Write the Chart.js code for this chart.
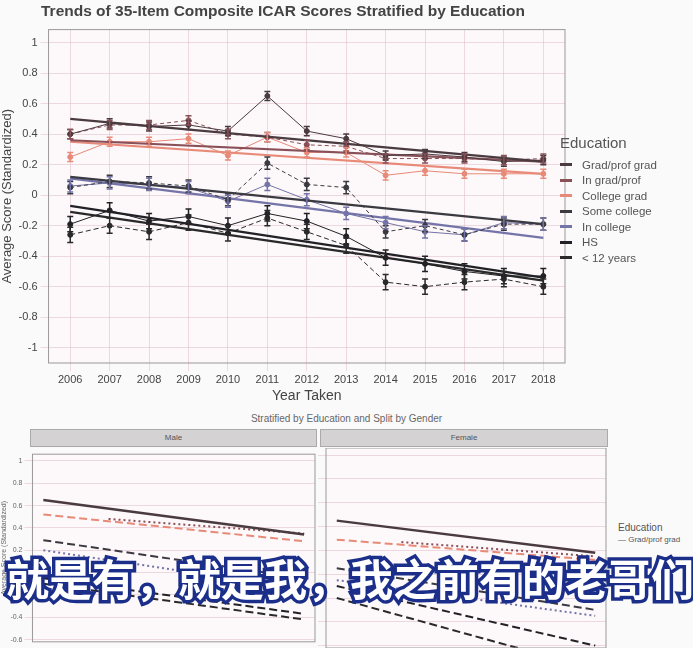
<!DOCTYPE html>
<html><head><meta charset="utf-8">
<script src="https://cdn.jsdelivr.net/npm/chart.js"></script>
<style>
body{margin:0;background:#fbfafb;width:693px;height:648px;overflow:hidden;position:relative;font-family:"Liberation Sans",Arial,sans-serif}
canvas{position:absolute}
#legend{position:absolute;left:560px;top:134px;color:#555;font-size:12px}
#legend .t{font-size:15px;margin-bottom:6px}
#legend .r{display:flex;align-items:center;height:15.5px;font-size:11.5px}
#legend .r span{display:inline-block;width:12px;height:3px;margin-right:10px}
#sub{position:absolute;left:6px;top:546px;font:bold 43px "Noto Sans CJK SC";color:#fff;-webkit-text-stroke:7px #1b2f8a;paint-order:stroke fill;white-space:nowrap;letter-spacing:0px}
.strip{position:absolute;background:#d4d2d3;border:1px solid #aaa;font-size:8px;color:#555;text-align:center;line-height:16px;height:16px}
#t2{position:absolute;left:0;width:693px;top:413px;text-align:center;font-size:10px;color:#666}
#leg2{position:absolute;left:618px;top:522px;font-size:10px;color:#555}
</style></head><body>
<canvas id="c1" width="570" height="405" style="left:0;top:0;width:570px;height:405px"></canvas>
<div id="legend"><div class="t">Education</div></div>
<div id="t2">Stratified by Education and Split by Gender</div>
<div class="strip" style="left:30px;top:429px;width:285px">Male</div>
<div class="strip" style="left:320px;top:429px;width:286px">Female</div>
<canvas id="c2" width="318" height="200" style="left:0;top:448px;width:318px;height:200px"></canvas>
<canvas id="c3" width="290" height="200" style="left:318px;top:448px;width:290px;height:200px"></canvas>
<div id="leg2">Education<br><span style="font-size:8px">— Grad/prof grad</span></div>
<div id="sub">就是有，就是我，我之前有的老哥们</div>
<script>
const years=[2006,2007,2008,2009,2010,2011,2012,2013,2014,2015,2016,2017,2018];
const groups=["Grad/prof grad","In grad/prof","College grad","Some college","In college","HS","< 12 years"];
const colors=["#4a3b40","#8a5058","#e88a78","#3a3a40","#7474a8","#222226","#2a2a2a"];
const dashes=[[],[4,3],[],[4,3],[],[],[5,3]];
const gradProf=[0.40,0.47,0.45,0.46,0.42,0.65,0.42,0.37,0.26,0.27,0.25,0.22,0.23];
const inGrad=[0.40,0.46,0.46,0.49,0.40,0.38,0.33,0.32,0.24,0.24,0.24,0.23,0.24];
const collegeGrad=[0.25,0.35,0.35,0.37,0.26,0.38,0.28,0.28,0.13,0.16,0.14,0.14,0.14];
const someCollege=[0.05,0.09,0.08,0.06,-0.03,0.21,0.07,0.05,-0.24,-0.20,-0.26,-0.19,-0.19];
const inCollege=[0.06,0.08,0.07,0.05,-0.04,0.07,-0.03,-0.12,-0.18,-0.24,-0.26,-0.18,-0.19];
const hs=[-0.19,-0.10,-0.17,-0.14,-0.20,-0.12,-0.17,-0.27,-0.41,-0.45,-0.50,-0.53,-0.53];
const lt12=[-0.26,-0.20,-0.24,-0.18,-0.25,-0.15,-0.24,-0.33,-0.57,-0.60,-0.57,-0.55,-0.60];
const series=[gradProf,inGrad,collegeGrad,someCollege,inCollege,hs,lt12];
const errHalf=[0.03,0.03,0.03,0.04,0.04,0.05,0.05];
const trendStart=[0.50,0.36,0.35,0.12,0.11,-0.07,-0.11];
const trendEnd=[0.22,0.22,0.14,-0.19,-0.28,-0.54,-0.56];
const yTicks=[1,0.8,0.6,0.4,0.2,0,-0.2,-0.4,-0.6,-0.8,-1];
const maleStart=[0.65,0.48,0.52,0.29,0.20,-0.05,-0.10];
const maleEnd=[0.34,0.35,0.28,-0.05,-0.15,-0.37,-0.42];
const femStart=[0.45,0.27,0.29,0.05,-0.05,-0.10,-0.20];
const femEnd=[0.18,0.15,0.12,-0.30,-0.35,-0.60,-0.80];

const leg=document.getElementById('legend');
groups.forEach((g,i)=>{const r=document.createElement('div');r.className='r';r.innerHTML=`<span style="background:${colors[i]}"></span>${g}`;leg.appendChild(r);});

const grid='rgba(225,190,200,0.55)';
const panelBg={id:'bg',beforeDraw(c){const a=c.chartArea,x=c.ctx;x.save();x.fillStyle='#fdf8fa';x.fillRect(a.left,a.top,a.width,a.height);x.restore();},
 afterDraw(c){const a=c.chartArea,x=c.ctx;x.save();x.strokeStyle='#999';x.lineWidth=1;x.strokeRect(a.left,a.top,a.width,a.height);x.restore();}};
const errPlugin={id:'err',afterDatasetsDraw(c){const xs=c.scales.x,ys=c.scales.y,x=c.ctx;x.save();
 series.forEach((s,i)=>{x.strokeStyle=colors[i];x.lineWidth=1.5;s.forEach((v,j)=>{const px=xs.getPixelForValue(years[j]);const a=ys.getPixelForValue(v+errHalf[i]),b=ys.getPixelForValue(v-errHalf[i]);
 x.beginPath();x.moveTo(px,a);x.lineTo(px,b);x.moveTo(px-3,a);x.lineTo(px+3,a);x.moveTo(px-3,b);x.lineTo(px+3,b);x.stroke();});});x.restore();}};

const ds=[];
series.forEach((s,i)=>{ds.push({data:s.map((v,j)=>({x:years[j],y:v})),borderColor:colors[i],backgroundColor:colors[i],borderWidth:1,borderDash:dashes[i],pointRadius:2.5,pointBackgroundColor:colors[i]});
 ds.push({data:[{x:years[0],y:trendStart[i]},{x:years[12],y:trendEnd[i]}],borderColor:colors[i],borderWidth:2.2,pointRadius:0});});

new Chart(document.getElementById('c1'),{type:'line',data:{datasets:ds},plugins:[panelBg,errPlugin],
options:{responsive:false,animation:false,layout:{padding:{top:0,right:4,left:0,bottom:0}},
plugins:{legend:{display:false},title:{display:true,text:'Trends of 35-Item Composite ICAR Scores Stratified by Education',color:'#444',font:{size:15.5},padding:{top:2,bottom:9}}},
scales:{x:{type:'linear',min:2005.45,max:2018.55,afterBuildTicks(s){s.ticks=years.map(v=>({value:v}));},ticks:{color:'#444',font:{size:11},padding:2,callback:v=>String(v)},grid:{color:grid},border:{display:false},title:{display:true,text:'Year Taken',color:'#444',font:{size:14},padding:0}},
y:{min:-1.1,max:1.085,afterBuildTicks(s){s.ticks=yTicks.map(v=>({value:v}));},ticks:{color:'#444',font:{size:11},callback:v=>String(Math.round(v*10)/10)},grid:{color:grid},border:{display:false},title:{display:true,text:'Average Score (Standardized)',color:'#444',font:{size:13},padding:0}}}}});

function facet(id,st,en,showY){
 const d=st.map((v,i)=>({data:[{x:i==1?2009:2006,y:i==1?st[i]:v},{x:2018,y:en[i]}],borderColor:colors[i],borderWidth:i==0?2.5:2,borderDash:i==0?[]:(i==1||i==4?[2,3]:[8,4]),pointRadius:0}));
 new Chart(document.getElementById(id),{type:'line',data:{datasets:d},plugins:[panelBg],
 options:{responsive:false,animation:false,layout:{padding:{top:0,right:showY?3:2,left:0,bottom:0}},plugins:{legend:{display:false}},
 scales:{x:{type:'linear',min:2005.5,max:2018.5,display:false,grid:{color:grid}},
 y:{min:-0.62,max:1.06,afterBuildTicks(s){s.ticks=yTicks.slice(0,9).map(v=>({value:v}));},ticks:{display:showY,color:'#666',font:{size:7},padding:2,callback:v=>String(Math.round(v*10)/10)},grid:{color:grid},border:{display:false},
 title:{display:showY,text:'Average Score (Standardized)',color:'#666',font:{size:7},padding:0}}}}});
}
facet('c2',maleStart,maleEnd,true);
facet('c3',femStart,femEnd,false);
</script></body></html>
